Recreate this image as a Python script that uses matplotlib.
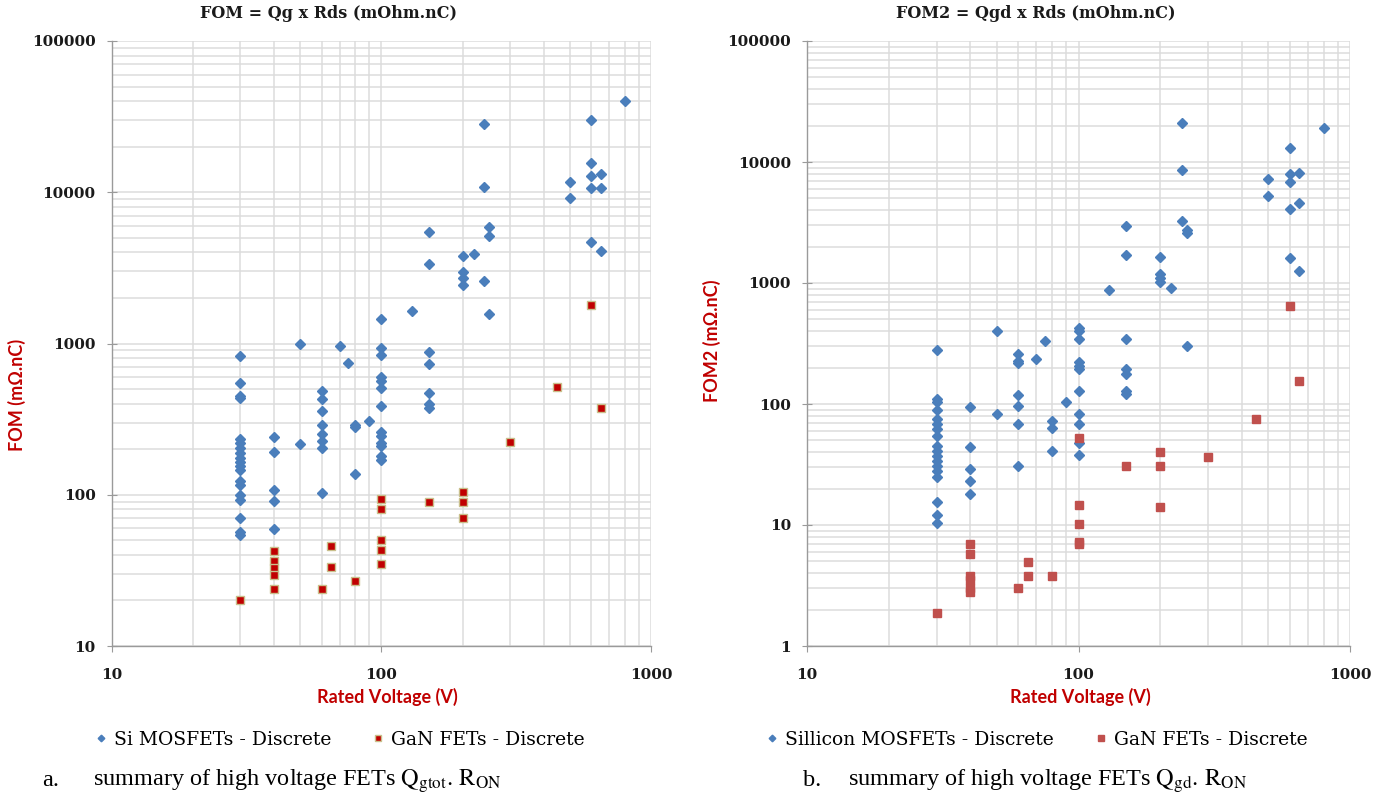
import matplotlib
matplotlib.use("Agg")
import matplotlib.pyplot as plt
from matplotlib.ticker import FixedLocator, LogLocator, NullFormatter, FuncFormatter

# ---- data: (a) FOM = Qg x Rds ----
si_qg_volts = [30] * 19 + [40] * 5 + [50] * 2 + [60] * 8 + [70, 75, 80, 80, 80, 90] \
    + [100] * 13 + [130] + [150] * 7 + [200] * 4 + [220] + [240] * 3 + [250] * 3 \
    + [500] * 2 + [600] * 5 + [650] * 3 + [800]
si_qg_fom = [830, 550, 451, 435, 232, 219, 203, 188, 176, 165, 155, 146, 124, 116, 100, 93, 70, 56.5, 54,
             241, 191, 108, 91, 59,
             1000, 218,
             484, 428, 360, 291, 252, 228, 204, 102,
             966, 743, 290, 280, 137, 306,
             1455, 933, 843, 602, 566, 505, 387, 260, 244, 221, 210, 180, 171,
             1640,
             5470, 3330, 879, 728, 472, 399, 373,
             3770, 2990, 2720, 2420,
             3930,
             28300, 10900, 2590,
             5860, 5110, 1570,
             11700, 9140,
             29900, 15600, 12850, 10700, 4670,
             13200, 10700, 4110,
             40200]

gan_qg_volts = [30] + [40] * 5 + [60, 65, 65, 80] + [100] * 5 + [150] + [200] * 3 + [300, 450, 600, 650]
gan_qg_fom = [20,
              42.7, 36.2, 32.7, 29.4, 23.9,
              23.9, 45.6, 33.3, 26.9,
              94.4, 81, 50.5, 43.1, 34.8,
              89.8,
              105, 89.8, 69.9,
              222, 514, 1808, 375]

# ---- data: (b) FOM2 = Qgd x Rds ----
si_qgd_volts = [30] * 18 + [40] * 5 + [50] * 2 + [60] * 7 + [70, 75] + [80] * 3 + [90] \
    + [100] * 11 + [130] + [150] * 7 + [200] * 4 + [220] + [240] * 3 + [250] * 3 \
    + [500] * 2 + [600] * 5 + [650] * 3 + [800]
si_qgd_fom2 = [277, 110, 103, 89, 75, 68, 62, 54, 45, 41, 37, 34, 31, 28, 25, 15.5, 12, 10.4,
               94, 44, 28.8, 23, 18,
               404, 82,
               259, 228, 217, 119, 97, 68, 31,
               237, 333,
               72, 63, 41,
               103,
               423, 400, 345, 223, 207, 194, 129, 82, 68, 48, 38,
               873,
               2940, 1720, 345, 194, 177, 128, 120,
               1650, 1190, 1100, 1020,
               901,
               21200, 8570, 3260,
               2720, 2610, 300,
               7170, 5190,
               12970, 7890, 6870, 4120, 1620,
               8040, 4560, 1250,
               19000]

gan_qgd_volts = [30] + [40] * 6 + [60, 65, 65, 80] + [100] * 5 + [150] + [200] * 3 + [300, 450, 600, 650]
gan_qgd_fom2 = [1.89,
                7.0, 5.75, 3.76, 3.5, 3.0, 2.8,
                3.0, 4.94, 3.76, 3.76,
                52, 14.7, 10.1, 7.2, 6.9,
                30.7,
                39.8, 30.7, 14.0,
                36.2, 75, 647, 156]

W, H = 1390, 800
BLUE = "#4a7ebb"
RED_LABEL = "#c00000"
GRID = "#dcdcdc"
SERIF = ["DejaVu Serif"]
SANS = ["Lato", "DejaVu Sans"]

plt.rcParams["mathtext.fontset"] = "stix"

fig = plt.figure(figsize=(W / 100, H / 100), dpi=100)


def px_axes(x0, x1, y0, y1):
    return fig.add_axes([x0 / W, 1 - y1 / H, (x1 - x0) / W, (y1 - y0) / H])


def style_axes(ax, ymin, ymax):
    ax.set_xscale("log")
    ax.set_yscale("log")
    ax.set_xlim(10, 1000)
    ax.set_ylim(ymin, ymax)
    ax.xaxis.set_major_locator(FixedLocator([10, 100, 1000]))
    ax.xaxis.set_minor_locator(LogLocator(base=10, subs=range(2, 10)))
    ax.yaxis.set_major_locator(LogLocator(base=10, numticks=10))
    ax.yaxis.set_minor_locator(LogLocator(base=10, subs=range(2, 10), numticks=10))
    fmt = FuncFormatter(lambda v, p: "%d" % round(v))
    ax.xaxis.set_major_formatter(fmt)
    ax.yaxis.set_major_formatter(fmt)
    ax.xaxis.set_minor_formatter(NullFormatter())
    ax.yaxis.set_minor_formatter(NullFormatter())
    ax.grid(True, which="both", color=GRID, linewidth=1.1)
    ax.set_axisbelow(True)
    for side in ["top", "right"]:
        ax.spines[side].set_visible(False)
    for side in ["left", "bottom"]:
        ax.spines[side].set_color("#9a9a9a")
        ax.spines[side].set_linewidth(1.0)
    ax.tick_params(axis="y", which="major", direction="inout", length=7, color="#9a9a9a", pad=8)
    ax.tick_params(axis="x", which="major", direction="out", length=4, color="#9a9a9a", pad=12)
    ax.tick_params(which="minor", length=0)
    for lab in ax.get_xticklabels() + ax.get_yticklabels():
        lab.set_family(SERIF)
        lab.set_fontweight("bold")
        lab.set_fontsize(11)
        lab.set_color("#1a1a1a")


# ---------- left chart ----------
ax1 = px_axes(111.7, 651, 41, 646)
style_axes(ax1, 10, 100000)
ax1.plot(si_qg_volts, si_qg_fom, linestyle="none", marker="D", markersize=5.6,
         color=BLUE, markeredgecolor=BLUE, label="Si MOSFETs - Discrete")
ax1.plot(gan_qg_volts, gan_qg_fom, linestyle="none", marker="s", markersize=6.2,
         color="#c00000", markeredgecolor="#c9c08c", markeredgewidth=1.0,
         label="GaN FETs - Discrete")

fig.text(328 / W, 1 - 13 / H, "FOM = Qg x Rds (mOhm.nC)", ha="center", va="center",
         family=SERIF, fontweight="bold", fontsize=11.5, color="#1a1a1a")
fig.text(387 / W, 1 - 697 / H, "Rated Voltage (V)", ha="center", va="center",
         family=SANS, fontweight="bold", fontsize=13, color=RED_LABEL)
fig.text(17 / W, 1 - 395 / H, "FOM (mΩ.nC)", ha="center", va="center", rotation=90,
         family=SANS, fontweight="bold", fontsize=13, color=RED_LABEL)
ax1.legend(loc="center", bbox_to_anchor=(340 / W, 1 - 740 / H), bbox_transform=fig.transFigure,
           ncol=2, frameon=False, markerscale=0.6, handlelength=0.6, handletextpad=0.4,
           columnspacing=2.2, prop={"family": SERIF, "size": 13.5})

# ---------- right chart ----------
ax2 = px_axes(807, 1350, 41, 646)
style_axes(ax2, 1, 100000)
ax2.plot(si_qgd_volts, si_qgd_fom2, linestyle="none", marker="D", markersize=5.6,
         color=BLUE, markeredgecolor=BLUE, label="Sillicon MOSFETs - Discrete")
ax2.plot(gan_qgd_volts, gan_qgd_fom2, linestyle="none", marker="s", markersize=6.4,
         color="#c0504d", markeredgecolor="#c0504d", label="GaN FETs - Discrete")

fig.text(1036 / W, 1 - 13 / H, "FOM2 = Qgd x Rds (mOhm.nC)", ha="center", va="center",
         family=SERIF, fontweight="bold", fontsize=11.5, color="#1a1a1a")
fig.text(1080 / W, 1 - 697 / H, "Rated Voltage (V)", ha="center", va="center",
         family=SANS, fontweight="bold", fontsize=13, color=RED_LABEL)
fig.text(712 / W, 1 - 341 / H, "FOM2 (mΩ.nC)", ha="center", va="center", rotation=90,
         family=SANS, fontweight="bold", fontsize=13, color=RED_LABEL)
ax2.legend(loc="center", bbox_to_anchor=(1037 / W, 1 - 740 / H), bbox_transform=fig.transFigure,
           ncol=2, frameon=False, markerscale=0.6, handlelength=0.6, handletextpad=0.4,
           columnspacing=2.2, prop={"family": SERIF, "size": 13.5})

# ---------- captions ----------
cap_font = {"family": ["Liberation Serif"], "size": 17.5, "color": "black"}
fig.text(42 / W, 1 - 781 / H, "a.", ha="left", va="center", **cap_font)
fig.text(93 / W, 1 - 781 / H, r"summary of high voltage FETs $\mathrm{Q_{gtot}}.\,\mathrm{R_{ON}}$",
         ha="left", va="center", **cap_font)
fig.text(803 / W, 1 - 781 / H, "b.", ha="left", va="center", **cap_font)
fig.text(848 / W, 1 - 781 / H, r"summary of high voltage FETs $\mathrm{Q_{gd}}.\,\mathrm{R_{ON}}$",
         ha="left", va="center", **cap_font)

fig.savefig("out.png", dpi=100)
